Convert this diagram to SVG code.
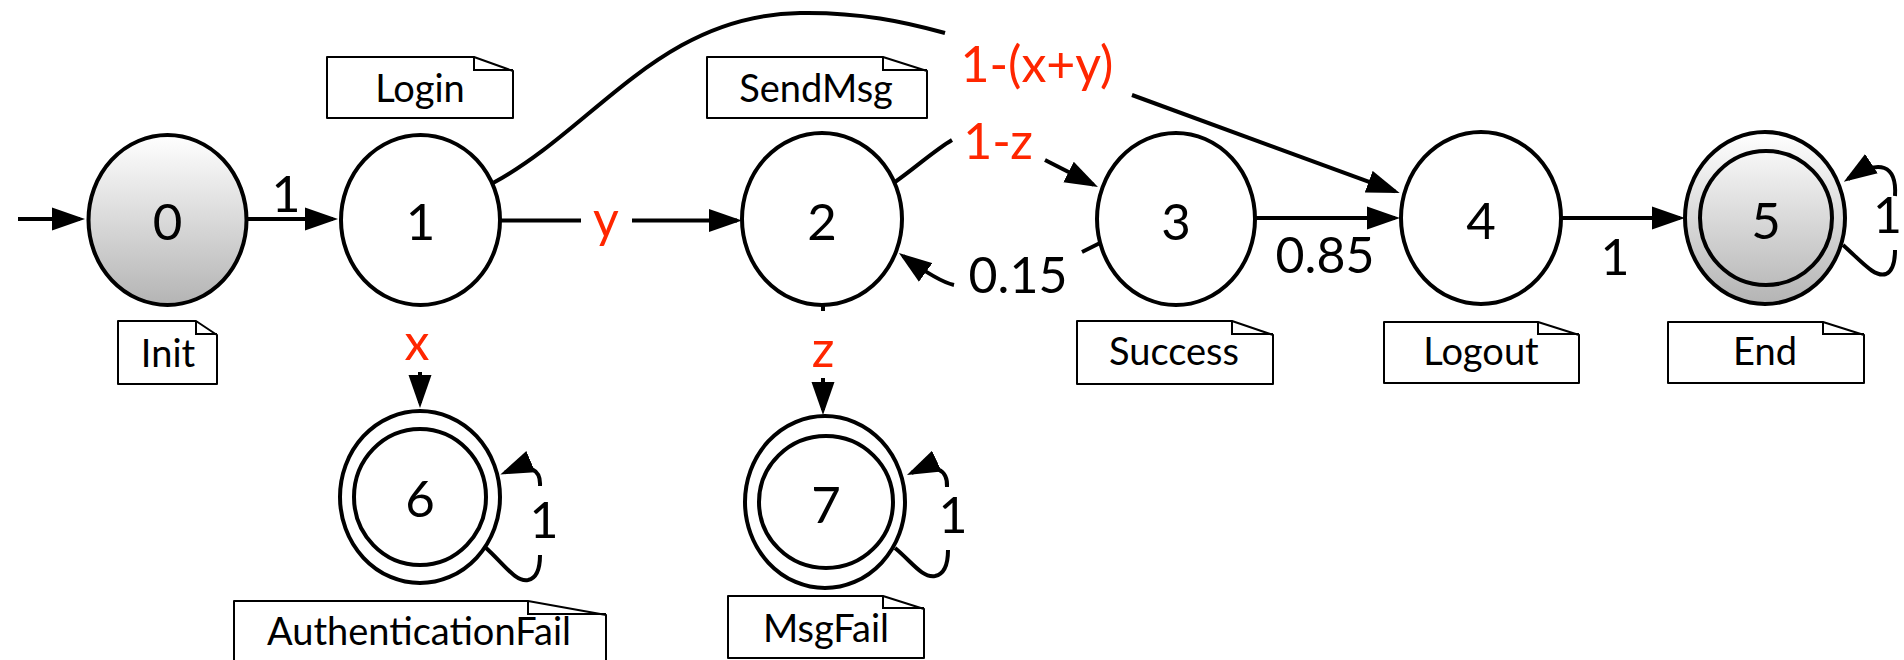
<svg xmlns="http://www.w3.org/2000/svg" width="1904" height="660" viewBox="0 0 1904 660">
<style>
.bg{fill:#fff}
.st{fill:#fff;stroke:#000;stroke-width:4}
.fin{fill:url(#g)}
.ring{fill:none;stroke:#000;stroke-width:4}
.num{font-family:Lato,"Liberation Sans",sans-serif;font-size:51px;fill:#000;text-anchor:middle}
.lbl{font-family:Lato,"Liberation Sans",sans-serif;font-size:50px;fill:#000;text-anchor:middle}
.red{fill:#ff2600}
.note{fill:#fff;stroke:#000;stroke-width:2;stroke-linejoin:round}
.fold{fill:none;stroke:#000;stroke-width:2}
.ntx{font-family:Lato,"Liberation Sans",sans-serif;font-size:38px;fill:#000;text-anchor:middle}
.e{fill:none;stroke:#000;stroke-width:4}
.ea{fill:none;stroke:#000;stroke-width:4;marker-end:url(#arrow)}
</style>
<defs>
<linearGradient id="g" x1="0" y1="0" x2="0" y2="1">
<stop offset="0" stop-color="#ffffff"/>
<stop offset="1" stop-color="#b4b4b4"/>
</linearGradient>
<marker id="arrow" markerUnits="userSpaceOnUse" markerWidth="34" markerHeight="24" refX="28" refY="12" orient="auto" viewBox="0 0 34 24">
<path d="M0,0.5 L33,12 L0,23.5 z" fill="#000"/>
</marker>
</defs>
<rect class="bg" x="0" y="0" width="1904" height="660"/>

<g id="note-init">
<path class="note" d="M118 321 H196 L217 335 V384 H118 Z"/>
<path class="fold" d="M196 321 V334 H217"/>
<text class="ntx" x="168" y="367">Init</text>
</g>
<g id="note-login">
<path class="note" d="M327 57 H474 L513 71 V118 H327 Z"/>
<path class="fold" d="M474 57 V70 H513"/>
<text class="ntx" x="420" y="102">Login</text>
</g>
<g id="note-sendmsg">
<path class="note" d="M707 57 H883 L927 71 V118 H707 Z"/>
<path class="fold" d="M883 57 V70 H927"/>
<text class="ntx" x="816" y="102">SendMsg</text>
</g>
<g id="note-success">
<path class="note" d="M1077 321 H1232 L1273 335 V384 H1077 Z"/>
<path class="fold" d="M1232 321 V334 H1273"/>
<text class="ntx" x="1174" y="365">Success</text>
</g>
<g id="note-logout">
<path class="note" d="M1384 322 H1538 L1579 335 V383 H1384 Z"/>
<path class="fold" d="M1538 322 V334 H1579"/>
<text class="ntx" x="1481" y="365">Logout</text>
</g>
<g id="note-end">
<path class="note" d="M1668 322 H1823 L1864 335 V383 H1668 Z"/>
<path class="fold" d="M1823 322 V334 H1864"/>
<text class="ntx" x="1765" y="365">End</text>
</g>
<g id="note-authfail">
<path class="note" d="M234 601 H528 L606 615 V668 H234 Z"/>
<path class="fold" d="M528 601 V614 H606"/>
<text class="ntx" x="419" y="645">AuthenticationFail</text>
</g>
<g id="note-msgfail">
<path class="note" d="M728 596 H883 L924 609 V658 H728 Z"/>
<path class="fold" d="M883 596 V608 H924"/>
<text class="ntx" x="826" y="642">MsgFail</text>
</g>

<g id="node0">
<ellipse class="st fin" cx="167.5" cy="220" rx="79" ry="85"/>
<text class="num" x="167.5" y="240">0</text>
</g>
<g id="node1">
<ellipse class="st" cx="420.5" cy="220" rx="79.5" ry="85"/>
<text class="num" x="420.5" y="240">1</text>
</g>
<g id="node2">
<ellipse class="st" cx="822" cy="219" rx="80" ry="86"/>
<text class="num" x="822" y="240">2</text>
</g>
<g id="node3">
<ellipse class="st" cx="1176" cy="219" rx="79" ry="86"/>
<text class="num" x="1176" y="240">3</text>
</g>
<g id="node4">
<ellipse class="st" cx="1481" cy="218" rx="80" ry="86"/>
<text class="num" x="1481" y="239">4</text>
</g>
<g id="node5">
<ellipse class="st fin" cx="1765" cy="218" rx="80" ry="86"/>
<ellipse class="ring" cx="1766" cy="218" rx="66" ry="67"/>
<text class="num" x="1766" y="239">5</text>
</g>
<g id="node6">
<ellipse class="st" cx="420" cy="497" rx="80" ry="86"/>
<ellipse class="ring" cx="420" cy="497" rx="66" ry="68"/>
<text class="num" x="420" y="517">6</text>
</g>
<g id="node7">
<ellipse class="st" cx="825" cy="502" rx="80" ry="86"/>
<ellipse class="ring" cx="826" cy="502" rx="67" ry="66"/>
<text class="num" x="826" y="523">7</text>
</g>

<g id="connectors">
<path class="ea" d="M18 219 L80 219"/>
<path class="ea" d="M247 219 L333 219"/>
<text class="lbl" x="286" y="212">1</text>

<path class="e" d="M500 220.5 L581 220.5"/>
<path class="ea" d="M632 220.5 L737 220.5"/>
<text class="lbl red" x="606" y="237">y</text>

<path class="e" d="M493 183 C 595 128, 660 15, 800 13 C 860 12, 905 22, 945 33"/>
<path class="ea" d="M1132 95 L1395 191.3"/>
<text class="lbl red" x="1037" y="82">1-(x+y)</text>

<path class="e" d="M895 182 C 915 168, 935 150, 952 140"/>
<path class="ea" d="M1045 160 L1093.5 184.7"/>
<text class="lbl red" x="998" y="159">1-z</text>

<path class="e" d="M1100 243 L1082 252"/>
<path class="ea" d="M954 285 C 945 283, 932 277, 903 256"/>
<text class="lbl" x="1018" y="293">0.15</text>

<path class="ea" d="M1255 218 L1395 218"/>
<text class="lbl" x="1325" y="273">0.85</text>

<path class="ea" d="M1561 218 L1680 218"/>
<text class="lbl" x="1615" y="275">1</text>

<path class="ea" d="M420 372 L420 403"/>
<text class="lbl red" x="417" y="360">x</text>

<path class="e" d="M823 305 L823 311"/>
<path class="ea" d="M823 378 L823 410"/>
<text class="lbl red" x="823" y="367">z</text>

<path class="e" d="M485 547 C 505 565, 515 582, 528 580 C 538 578, 540 565, 540 555"/>
<path class="ea" d="M540 486 C 541 470, 530 462, 505 472.5"/>
<text class="lbl" x="544" y="538">1</text>

<path class="e" d="M895 548 C 912 562, 922 578, 935 576 C 945 574, 948 562, 948 550"/>
<path class="ea" d="M947 487 C 948 470, 935 462, 911.5 472.9"/>
<text class="lbl" x="953" y="533">1</text>

<path class="e" d="M1843 245 C 1862 262, 1875 278, 1886 274 C 1893 271, 1895 260, 1895 250"/>
<path class="ea" d="M1895 196 C 1897 165, 1880 158, 1848 179"/>
<text class="lbl" x="1902" y="233" style="text-anchor:end">1</text>
</g>
</svg>
